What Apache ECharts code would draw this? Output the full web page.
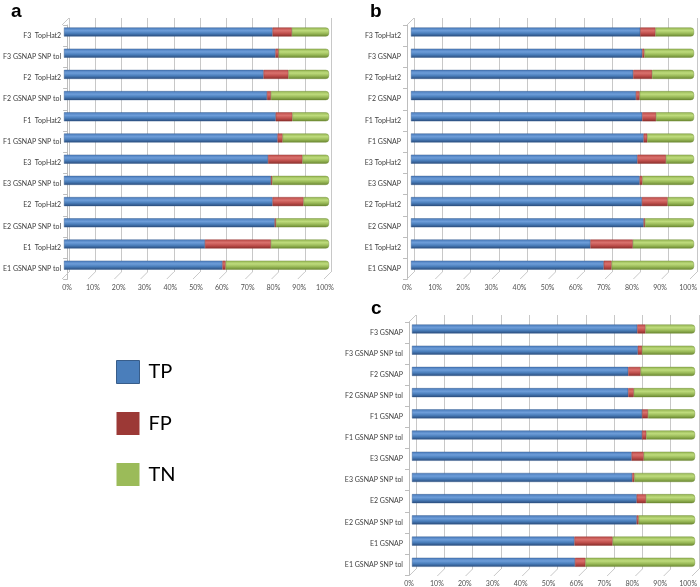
<!DOCTYPE html>
<html>
<head>
<meta charset="utf-8">
<script src="https://cdn.jsdelivr.net/npm/echarts@6/dist/echarts.min.js"></script>
<style>
  html, body { margin: 0; padding: 0; background: #fff; }
  #chart { width: 700px; height: 587px; }
</style>
</head>
<body>
<div id="chart"></div>
<script>
// rows listed bottom -> top (category axis starts at the bottom)
var catsA = ['E1 GSNAP SNP tol', 'E1  TopHat2', 'E2 GSNAP SNP tol', 'E2  TopHat2', 'E3 GSNAP SNP tol', 'E3  TopHat2',
  'F1 GSNAP SNP tol', 'F1  TopHat2', 'F2 GSNAP SNP tol', 'F2  TopHat2', 'F3 GSNAP SNP tol', 'F3  TopHat2']
var tpA = [59.8, 53.2, 79.5, 78.7, 78.1, 77.0, 80.6, 79.9, 76.6, 75.3, 79.8, 78.7]
var fpA = [1.2, 24.9, 0.5, 11.7, 0.5, 13.0, 1.9, 6.3, 1.5, 9.4, 1.2, 7.3]
var tnA = [39.0, 21.9, 20.0, 9.6, 21.4, 10.0, 17.5, 13.8, 21.9, 15.3, 19.0, 14.0]

var catsB = ['E1 GSNAP', 'E1 TopHat2', 'E2 GSNAP', 'E2 TopHat2', 'E3 GSNAP', 'E3 TopHat2',
  'F1 GSNAP', 'F1 TopHat2', 'F2 GSNAP', 'F2 TopHat2', 'F3 GSNAP', 'F3 TopHat2']
var tpB = [68.1, 63.4, 82.2, 81.6, 80.8, 80.0, 82.2, 81.7, 79.5, 78.5, 81.7, 81.0]
var fpB = [2.8, 15.0, 0.5, 9.1, 1.0, 10.1, 1.3, 4.9, 1.3, 6.7, 0.8, 5.4]
var tnB = [29.1, 21.6, 17.3, 9.3, 18.2, 9.9, 16.5, 13.4, 19.2, 14.8, 17.5, 13.6]

var catsC = ['E1 GSNAP SNP tol', 'E1 GSNAP', 'E2 GSNAP SNP tol', 'E2 GSNAP', 'E3 GSNAP SNP tol', 'E3 GSNAP',
  'F1 GSNAP SNP tol', 'F1 GSNAP', 'F2 GSNAP SNP tol', 'F2 GSNAP', 'F3 GSNAP SNP tol', 'F3 GSNAP']
var tpC = [57.6, 57.4, 79.4, 79.4, 77.8, 77.6, 81.3, 81.3, 76.4, 76.4, 79.8, 79.6]
var fpC = [3.7, 13.5, 0.7, 3.3, 0.8, 4.3, 1.5, 2.1, 2.0, 4.4, 1.5, 2.9]
var tnC = [38.7, 29.1, 19.9, 17.3, 21.4, 18.1, 17.2, 16.6, 21.6, 19.2, 18.7, 17.5]

var xTicks = [0, 10, 20, 30, 40, 50, 60, 70, 80, 90, 100]
var classes = ['TP', 'FP', 'TN']

var font = 'Lato, "Open Sans", sans-serif'

function cyl(c0, c1, c2, c3) {
  return {
    type: 'linear', x: 0, y: 0, x2: 0, y2: 1,
    colorStops: [
      { offset: 0, color: c0 }, { offset: 0.35, color: c1 },
      { offset: 0.65, color: c2 }, { offset: 1, color: c3 }
    ]
  }
}
var fills = [
  cyl('#4a7bbb', '#6d9dd9', '#4a7ebb', '#2a4c7c'),
  cyl('#bb4b48', '#d9716d', '#c0504d', '#8a2e2b'),
  cyl('#94b553', '#bedb7c', '#9bbb59', '#6a8731')
]
var edges = ['#2f5688', '#8a2e2b', '#6a8731']

// layout of each panel: back wall, bars, front (labels)
var panels = [
  { cats: catsA, vals: [tpA, fpA, tnA],
    back: { left: 69, top: 18, width: 262, height: 254 },
    bars: { left: 64, top: 21.4, width: 265, height: 254.4 },
    front: { left: 61, top: 25, width: 264, height: 254.4 } },
  { cats: catsB, vals: [tpB, fpB, tnB],
    back: { left: 414, top: 18, width: 283, height: 254 },
    bars: { left: 411, top: 21.4, width: 283, height: 254.4 },
    front: { left: 407, top: 25, width: 283, height: 254.4 } },
  { cats: catsC, vals: [tpC, fpC, tnC],
    back: { left: 416, top: 315, width: 283, height: 254 },
    bars: { left: 412, top: 318.4, width: 283, height: 254.5 },
    front: { left: 409, top: 322, width: 282, height: 254.5 } }
]

var grid = [], xAxis = [], yAxis = [], series = []

panels.forEach(function (p, pi) {
  var b = pi * 3
  grid.push(p.back, p.bars, p.front)

  // back wall: vertical gridlines
  xAxis.push({ gridIndex: b, type: 'value', min: 0, max: 100, interval: 10,
    axisLine: { show: false }, axisTick: { show: false }, axisLabel: { show: false },
    splitLine: { show: true, lineStyle: { color: '#c8c8c8', width: 1 } } })
  yAxis.push({ gridIndex: b, type: 'category', data: p.cats,
    axisLine: { show: false }, axisTick: { show: false }, axisLabel: { show: false } })

  // bars
  xAxis.push({ gridIndex: b + 1, type: 'value', min: 0, max: 100, show: false })
  yAxis.push({ gridIndex: b + 1, type: 'category', data: p.cats, show: false })

  // front: tick labels and category labels
  xAxis.push({ gridIndex: b + 2, type: 'value', min: 0, max: 100, interval: 10,
    axisLine: { show: false }, axisTick: { show: false }, splitLine: { show: false },
    axisLabel: { formatter: '{value}%', fontSize: 7, color: '#505050', fontFamily: font, margin: 5 } })
  yAxis.push({ gridIndex: b + 2, type: 'category', data: p.cats,
    axisLine: { show: true, lineStyle: { color: '#bdbdbd' } },
    axisTick: { show: true, length: 4, lineStyle: { color: '#bdbdbd' } },
    axisLabel: { fontSize: 7, color: '#404040', fontFamily: font, margin: 6 } })

  // floor diagonals from back wall to front edge
  series.push({
    type: 'custom', xAxisIndex: b, yAxisIndex: b, silent: true,
    data: xTicks.map(function (t) { return [t, 0] }),
    renderItem: function (params, api) {
      var x = api.coord([api.value(0), 0])[0]
      var cs = params.coordSys
      var y = cs.y + cs.height
      return { type: 'line', shape: { x1: x, y1: y, x2: x - 7, y2: y + 7 },
        style: { stroke: '#c8c8c8', lineWidth: 1 } }
    }
  })
  // top-left corner of the wall
  series.push({
    type: 'custom', xAxisIndex: b, yAxisIndex: b, silent: true,
    data: [[0, 0]],
    renderItem: function (params, api) {
      var cs = params.coordSys
      return { type: 'line', shape: { x1: cs.x, y1: cs.y, x2: cs.x - 7, y2: cs.y + 7 },
        style: { stroke: '#c8c8c8', lineWidth: 1 } }
    }
  })

  classes.forEach(function (name, k) {
    series.push({
      name: name, type: 'bar', stack: 'p' + pi,
      xAxisIndex: b + 1, yAxisIndex: b + 1,
      barWidth: 9,
      data: p.vals[k],
      itemStyle: { color: fills[k], borderColor: edges[k], borderWidth: 0.4,
        borderRadius: k === 2 ? [0, 3, 3, 0] : 0 },
      emphasis: { disabled: true }
    })
  })
})

var chart = echarts.init(document.getElementById('chart'))
chart.setOption({
  animation: false,
  backgroundColor: '#fff',
  title: [
    { text: 'a', left: 6, top: -3, textStyle: { fontSize: 19, fontWeight: 'bold', color: '#000', fontFamily: 'Liberation Sans, Arial' } },
    { text: 'b', left: 365, top: -3, textStyle: { fontSize: 19, fontWeight: 'bold', color: '#000', fontFamily: 'Liberation Sans, Arial' } },
    { text: 'c', left: 366, top: 294, textStyle: { fontSize: 19, fontWeight: 'bold', color: '#000', fontFamily: 'Liberation Sans, Arial' } }
  ],
  legend: {
    orient: 'vertical', left: 111, top: 355,
    itemWidth: 23, itemHeight: 23, itemGap: 28,
    icon: 'rect',
    textStyle: { fontSize: 20, color: '#000', fontFamily: font, padding: [0, 0, 0, 4] },
    data: [
      { name: 'TP', itemStyle: { color: '#4a7ebb', borderColor: '#385d8a', borderWidth: 1 } },
      { name: 'FP', itemStyle: { color: '#9c3936', borderColor: '#9c3936', borderWidth: 0 } },
      { name: 'TN', itemStyle: { color: '#9bbb59', borderColor: '#9bbb59', borderWidth: 0 } }
    ],
    selectedMode: false
  },
  grid: grid,
  xAxis: xAxis,
  yAxis: yAxis,
  series: series
})
</script>
</body>
</html>
